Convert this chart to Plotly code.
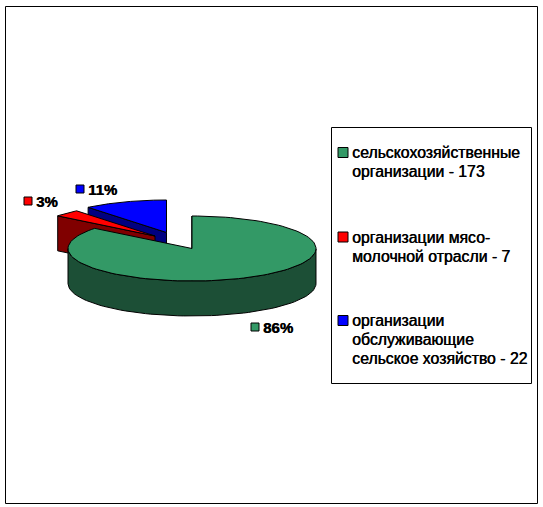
import numpy as np
import plotly.graph_objects as go

# Values as printed in the legend
categories = ["сельскохозяйственные организации", "организации мясо-молочной отрасли", "организации обслуживающие сельское хозяйство"]
counts = [173, 7, 22]
percent_labels = ["86%", "3%", "11%"]
legend_lines = [
    ["сельскохозяйственные", "организации - 173"],
    ["организации мясо-", "молочной отрасли - 7"],
    ["организации", "обслуживающие", "сельское хозяйство - 22"],
]
top_colors = ["#339966", "#ff0000", "#0000ff"]
side_colors = ["#1c4f36", "#800000", "#000080"]

# Pie geometry, in page pixels
RX, RY, DEPTH = 124, 32.5, 35
CENTER = (192, 248.5)
OFFSETS = [(0, 0), (-37, -12.5), (-25.5, -16)]
LABEL_POS = [(255, 327), (28, 201), (80, 189)]
LEGEND_SWATCH_Y = [152.5, 237, 320.5]
FONT = "Liberation Sans"
BLACK_LINE = dict(color="black", width=1)
HEAVY = "0.5px 0 0 black"


def arc(cx, cy, start, end):
    # angles in degrees, clockwise from 12 o'clock
    a = np.radians(np.linspace(start, end, 120))
    return cx + RX * np.sin(a), cy - RY * np.cos(a)


def add_poly(fig, xs, ys, color):
    fig.add_trace(go.Scatter(x=list(xs) + [xs[0]], y=list(ys) + [ys[0]], mode="lines", fill="toself",
                             fillcolor=color, line=BLACK_LINE, hoverinfo="skip", showlegend=False))


def add_wedge(fig, i, start, end):
    cx = CENTER[0] + OFFSETS[i][0]
    cy = CENTER[1] + OFFSETS[i][1]
    ax, ay = arc(cx, cy, start, end)

    # only the leading cut face can be seen from this viewpoint
    add_poly(fig, [cx, ax[0], ax[0], cx], [cy, ay[0], ay[0] + DEPTH, cy + DEPTH], side_colors[i])
    # outer wall where it faces the viewer, then the top
    front = np.radians(np.linspace(start, end, 120))
    keep = np.cos(front) <= 0.0
    if keep.any():
        wx, wy = ax[keep], ay[keep]
        add_poly(fig, np.r_[wx, wx[::-1]], np.r_[wy, wy[::-1] + DEPTH], side_colors[i])
    add_poly(fig, np.r_[cx, ax], np.r_[cy, ay], top_colors[i])


fig = go.Figure()

angles = np.cumsum([0] + counts) / sum(counts) * 360
# back slices first so the big one covers them
for i in [2, 1, 0]:
    add_wedge(fig, i, angles[i], angles[i + 1])

# percent labels with their small colour keys
fig.add_trace(go.Scatter(x=[p[0] for p in LABEL_POS], y=[p[1] for p in LABEL_POS], mode="markers",
                         marker=dict(symbol="square", size=8, color=top_colors, line=BLACK_LINE),
                         hoverinfo="skip", showlegend=False))
for p, label in zip(LABEL_POS, percent_labels):
    fig.add_annotation(x=p[0] + 6, y=p[1], text=label, showarrow=False, xanchor="left", yanchor="middle",
                       font=dict(family=FONT, size=15, color="black", weight="bold", shadow=HEAVY))

# legend box drawn by hand, its line breaks do not fit plotly's own legend
fig.add_shape(type="rect", x0=331.5, y0=127.5, x1=531.5, y1=383.5, line=BLACK_LINE, fillcolor="white", layer="below")
fig.add_shape(type="rect", x0=5.5, y0=6.5, x1=537.5, y1=503.5, line=BLACK_LINE, fillcolor="rgba(0,0,0,0)", layer="below")
fig.add_trace(go.Scatter(x=[343] * 3, y=LEGEND_SWATCH_Y, mode="markers",
                         marker=dict(symbol="square", size=10, color=top_colors, line=BLACK_LINE),
                         hoverinfo="skip", showlegend=False))
for y, lines in zip(LEGEND_SWATCH_Y, legend_lines):
    for n, line in enumerate(lines):
        fig.add_annotation(x=349.5, y=y + n * 19, text=line, showarrow=False, xanchor="left", yanchor="middle",
                           font=dict(family=FONT, size=15.8, color="black", shadow=HEAVY))

fig.update_xaxes(range=[0, 543], visible=False, fixedrange=True)
fig.update_yaxes(range=[507, 0], visible=False, fixedrange=True)
fig.update_layout(width=543, height=507, margin=dict(l=0, r=0, t=0, b=0), paper_bgcolor="white",
                  plot_bgcolor="white", showlegend=False)
fig.write_html("out.html", config=dict(displayModeBar=False), post_script="document.body.style.margin = '0';")
